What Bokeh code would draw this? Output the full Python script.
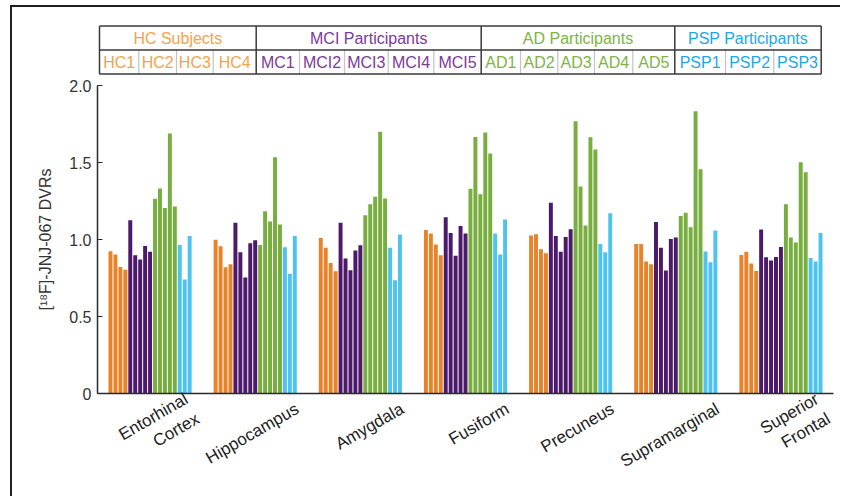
import math
from bokeh.plotting import figure
from bokeh.models import ColumnDataSource, Range1d, FixedTicker, Spacer
from bokeh.layouts import column, row
from bokeh.embed import file_html
from bokeh.resources import INLINE
from bokeh.core.properties import value

# ---------------- data ----------------
regions = ["Entorhinal\nCortex", "Hippocampus", "Amygdala", "Fusiform",
           "Precuneus", "Supramarginal", "Superior\nFrontal"]
subjects = ["HC1", "HC2", "HC3", "HC4",
            "MC1", "MCI2", "MCI3", "MCI4", "MCI5",
            "AD1", "AD2", "AD3", "AD4", "AD5",
            "PSP1", "PSP2", "PSP3"]
group_names = ["HC Subjects", "MCI Participants", "AD Participants", "PSP Participants"]
group_sizes = [4, 5, 5, 3]

entorhinal_cortex = [0.924, 0.903, 0.822, 0.803, 1.125, 0.898, 0.870, 0.958, 0.920,
                     1.264, 1.331, 1.205, 1.688, 1.214, 0.965, 0.740, 1.023]
hippocampus = [0.998, 0.956, 0.820, 0.840, 1.108, 0.918, 0.753, 0.976, 0.995,
               0.965, 1.184, 1.117, 1.534, 1.097, 0.950, 0.777, 1.023]
amygdala = [1.010, 0.946, 0.848, 0.794, 1.108, 0.877, 0.801, 0.929, 0.963,
            1.158, 1.229, 1.277, 1.699, 1.266, 0.946, 0.736, 1.032]
fusiform = [1.062, 1.039, 0.967, 0.898, 1.145, 1.043, 0.894, 1.088, 1.039,
            1.329, 1.666, 1.294, 1.695, 1.558, 1.039, 0.903, 1.130]
precuneus = [1.026, 1.034, 0.937, 0.911, 1.238, 1.023, 0.920, 1.017, 1.067,
             1.768, 1.344, 1.091, 1.664, 1.584, 0.971, 0.917, 1.171]
supramarginal = [0.971, 0.971, 0.857, 0.840, 1.114, 0.946, 0.799, 1.004, 1.013,
                 1.153, 1.173, 1.080, 1.833, 1.456, 0.922, 0.853, 1.058]
superior_frontal = [0.900, 0.920, 0.844, 0.796, 1.065, 0.885, 0.864, 0.887, 0.952,
                    1.229, 1.013, 0.981, 1.502, 1.437, 0.880, 0.857, 1.043]

region_values = [entorhinal_cortex, hippocampus, amygdala, fusiform,
                 precuneus, supramarginal, superior_frontal]

y_ticks = [0, 0.5, 1.0, 1.5, 2.0]
y_tick_labels = ["0", "0.5", "1.0", "1.5", "2.0"]

# ---------------- styles ----------------
bar_colors = ["#E8832A", "#4D1A6B", "#77AE3F", "#4FC3F0"]
head_colors = ["#F5A34A", "#7D3A98", "#7CB545", "#1BA8EA"]
FONT = "Liberation Sans"
DARK = "#2b2b2b"
BORDER = "#231f20"

W = 840          # total width (page px)
TOP_H = 78       # header area height (incl. border line)
MAIN_H = 418     # chart height
X0 = 12          # page x where the figures start (after margin + border line)
LINE_Y = 5       # page y of the top figure border line
FRAME_L, FRAME_R = 97, 833   # page x of the plot frame

# table cell edges (page px) : 17 cells
cell_edges = [99, 138.3, 176, 212.7, 255.7, 299, 344, 387.7, 433.3, 480.7,
              520, 557.3, 594, 632.3, 674.3, 725, 773.3, 820.7]
t_top, t_mid, t_bot = 25.5, 49.5, 73.5

# ---------------- top figure: header table ----------------
top = figure(width=W - X0, height=TOP_H - LINE_Y - 2,
             x_range=Range1d(FRAME_L, FRAME_R), y_range=Range1d(TOP_H, LINE_Y + 2),
             x_axis_type=None, y_axis_type=None, output_backend="svg",
             toolbar_location=None, min_border_left=FRAME_L - X0,
             min_border_right=W - FRAME_R, min_border_top=0, min_border_bottom=0)
top.grid.visible = False
top.outline_line_color = None

grp_idx = [0]
for s in group_sizes:
    grp_idx.append(grp_idx[-1] + s)
grp_edges = [cell_edges[i] for i in grp_idx]

inner = [cell_edges[i] for i in range(1, len(cell_edges) - 1) if i not in grp_idx]
top.segment(x0=inner, y0=[t_mid] * len(inner), x1=inner, y1=[t_bot] * len(inner),
            line_color="#c4c4c4", line_width=1.2)
top.segment(x0=grp_edges, y0=[t_top] * len(grp_edges), x1=grp_edges, y1=[t_bot] * len(grp_edges),
            line_color="#3a3a3a", line_width=1.5)
top.segment(x0=[cell_edges[0]] * 3, y0=[t_top, t_mid, t_bot],
            x1=[cell_edges[-1]] * 3, y1=[t_top, t_mid, t_bot],
            line_color="#3a3a3a", line_width=1.5)

g_src = ColumnDataSource(dict(
    x=[(grp_edges[i] + grp_edges[i + 1]) / 2 for i in range(4)],
    y=[(t_top + t_mid) / 2] * 4,
    text=group_names, color=head_colors))
top.text(x="x", y="y", text="text", text_color="color", source=g_src,
         text_align="center", text_baseline="middle",
         text_font=value(FONT), text_font_size="16px")

sub_colors = []
bar_c = []
for gi, s in enumerate(group_sizes):
    sub_colors += [head_colors[gi]] * s
    bar_c += [bar_colors[gi]] * s
s_src = ColumnDataSource(dict(
    x=[(cell_edges[i] + cell_edges[i + 1]) / 2 for i in range(len(subjects))],
    y=[(t_mid + t_bot) / 2] * len(subjects),
    text=subjects, color=sub_colors))
top.text(x="x", y="y", text="text", text_color="color", source=s_src,
         text_align="center", text_baseline="middle",
         text_font=value(FONT), text_font_size="16px")

# ---------------- main chart ----------------
p = figure(width=W - X0, height=MAIN_H, x_range=Range1d(0.5, 7.5), y_range=Range1d(0, 2),
           output_backend="svg", toolbar_location=None,
           min_border_left=FRAME_L - X0, min_border_right=W - FRAME_R, min_border_top=7,
           min_border_bottom=MAIN_H - 7 - 308)
p.grid.visible = False
p.outline_line_color = None

n = len(subjects)
pitch = 0.8 / n
xs, tops = [], []
for ri, vals in enumerate(region_values):
    for j, v in enumerate(vals):
        xs.append(ri + 1 + (j - (n - 1) / 2) * pitch)
        tops.append(v)
src = ColumnDataSource(dict(x=xs, top=tops, color=bar_c * len(regions)))
p.vbar(x="x", top="top", bottom=0, width=pitch * 0.8, fill_color="color",
       line_color=None, source=src)

# y axis
p.yaxis.ticker = FixedTicker(ticks=y_ticks)
p.yaxis.major_label_overrides = {t: l for t, l in zip(y_ticks, y_tick_labels)}
p.yaxis.major_tick_in = 5
p.yaxis.major_tick_out = 0
p.yaxis.minor_tick_line_color = None
p.yaxis.axis_line_color = DARK
p.yaxis.axis_line_width = 1.5
p.yaxis.major_tick_line_color = DARK
p.yaxis.major_label_text_font = FONT
p.yaxis.major_label_text_font_size = "16px"
p.yaxis.major_label_text_color = "#333333"
p.yaxis.major_label_standoff = 6
p.yaxis.axis_label = "[¹⁸F]-JNJ-067 DVRs"
p.yaxis.axis_label_text_font = FONT
p.yaxis.axis_label_text_font_size = "16px"
p.yaxis.axis_label_text_font_style = "normal"
p.yaxis.axis_label_text_color = "#333333"
p.yaxis.axis_label_standoff = 12

# x axis (labels hang from a point right of each group centre)
label_pos = [i + 1 + 0.4 for i in range(len(regions))]
p.xaxis.ticker = FixedTicker(ticks=label_pos)
p.xaxis.major_label_overrides = {t: l for t, l in zip(label_pos, regions)}
p.xaxis.major_label_orientation = math.radians(30)
p.xaxis.major_tick_line_color = None
p.xaxis.minor_tick_line_color = None
p.xaxis.axis_line_color = DARK
p.xaxis.axis_line_width = 1.5
p.xaxis.major_label_text_font = FONT
p.xaxis.major_label_text_font_size = "17px"
p.xaxis.major_label_text_color = "#222222"
p.xaxis.major_label_standoff = 8

# ---------------- figure border lines as plain coloured strips ----------------
pad = Spacer(width=X0 - 2, height=TOP_H + MAIN_H)
left_line = Spacer(width=2, height=TOP_H + MAIN_H - LINE_Y, margin=(LINE_Y, 0, 0, 0),
                   styles={"background-color": BORDER})
top_line = Spacer(width=W - X0, height=2, margin=(LINE_Y, 0, 0, 0),
                  styles={"background-color": BORDER})

layout = row(pad, left_line, column(top_line, top, p))
open("out.html", "w").write(file_html(layout, INLINE))
